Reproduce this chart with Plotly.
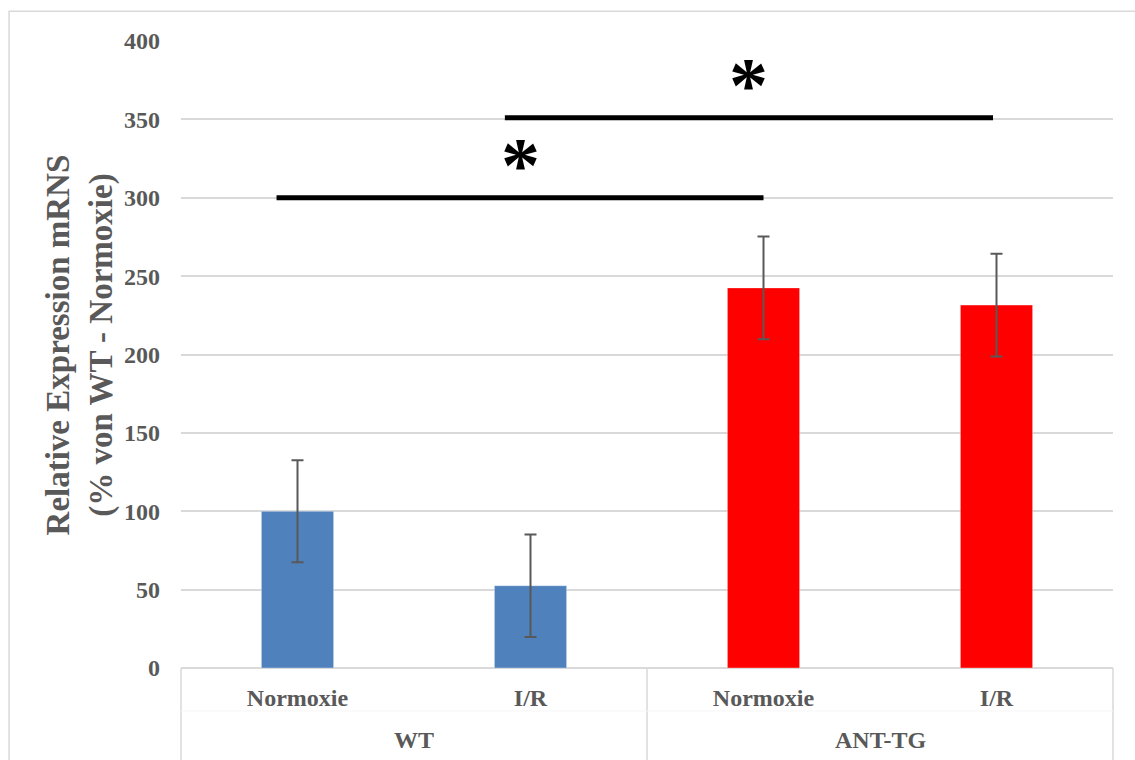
import numpy as np
import plotly.graph_objects as go

# Expression data (mean ± SD), % of WT normoxia
groups = ["WT", "WT", "ANT-TG", "ANT-TG"]
conditions = ["Normoxie", "I/R", "Normoxie", "I/R"]
means = [100.0, 52.5, 242.5, 231.5]
sd = [32.5, 32.7, 32.7, 32.7]

group_colors = {"WT": "#4F81BD", "ANT-TG": "#FF0000"}

# Significance brackets: (x start, x end, y level, label)
sig_x0 = [-0.09, 0.89]
sig_x1 = [2.0, 2.985]
sig_y = [300, 351]
sig_label = ["*", "*"]

y_ticks = list(range(0, 401, 50))

FONT = "Liberation Serif, Times New Roman, serif"
GREY = "#595959"
GRID = "#D9D9D9"

x = np.arange(len(means))

fig = go.Figure()
fig.add_trace(go.Bar(
    x=x, y=means, width=0.31,
    marker=dict(color=[group_colors[g] for g in groups],
                line=dict(color="rgba(255,255,255,0.35)", width=1)),
    error_y=dict(type="data", array=sd, visible=True,
                 color=GREY, thickness=2, width=6),
    showlegend=False, hoverinfo="skip",
))

shapes = []
for x0, x1, yl in zip(sig_x0, sig_x1, sig_y):
    shapes.append(dict(type="line", xref="x", yref="y", x0=x0, x1=x1, y0=yl, y1=yl,
                       line=dict(color="black", width=5), layer="above"))

# group dividers below the category axis
for px in [0.0, 0.5, 1.0]:
    shapes.append(dict(type="line", xref="paper", yref="paper", x0=px, x1=px,
                       y0=0, y1=-0.2, line=dict(color=GRID, width=1.5)))
shapes.append(dict(type="line", xref="paper", yref="paper", x0=0, x1=1,
                   y0=-0.0685, y1=-0.0685, line=dict(color="#F6F6F6", width=1)))
# outer frame
shapes.append(dict(type="rect", xref="paper", yref="paper", x0=-0.1845, x1=1.1,
                   y0=-0.3, y1=1.0473, line=dict(color=GRID, width=1.5),
                   fillcolor="rgba(0,0,0,0)"))

annotations = []
for x0, x1, yl, lab in zip(sig_x0, sig_x1, sig_y, sig_label):
    annotations.append(dict(x=(x0 + x1) / 2, y=yl, xref="x", yref="y", text=lab,
                            showarrow=False, yanchor="bottom", yshift=-12,
                            font=dict(family=FONT, size=78, color="black", weight="bold")))

# group labels
for gx, g in [(0.25, "WT"), (0.75, "ANT-TG")]:
    annotations.append(dict(x=gx, y=-0.115, xref="paper", yref="paper", text=g,
                            showarrow=False, xanchor="center", yanchor="middle",
                            font=dict(family=FONT, size=24, color=GREY, weight="bold")))

annotations.append(dict(x=-0.108, y=0.515, xref="paper", yref="paper",
                        text="Relative Expression mRNS<br>(% von WT - Normoxie)",
                        textangle=-90, showarrow=False, xanchor="center", yanchor="middle",
                        font=dict(family=FONT, size=33, color=GREY, weight="bold")))

fig.update_layout(
    width=1135, height=760,
    margin=dict(l=181, r=22, t=41, b=92),
    paper_bgcolor="white", plot_bgcolor="white",
    shapes=shapes, annotations=annotations,
    xaxis=dict(range=[-0.5, 3.5], tickvals=x, ticktext=conditions,
               showgrid=False, zeroline=False, showline=False, ticks="",
               ticklabelstandoff=13,
               tickfont=dict(family=FONT, size=24, color=GREY, weight="bold")),
    yaxis=dict(range=[0, 400], tickvals=y_ticks, showgrid=True, gridcolor=GRID,
               gridwidth=2, zeroline=True, zerolinecolor=GRID, zerolinewidth=2,
               showline=False, ticks="", ticklabelstandoff=20,
               tickfont=dict(family=FONT, size=24, color=GREY, weight="bold")),
)

fig.write_html("out.html")
